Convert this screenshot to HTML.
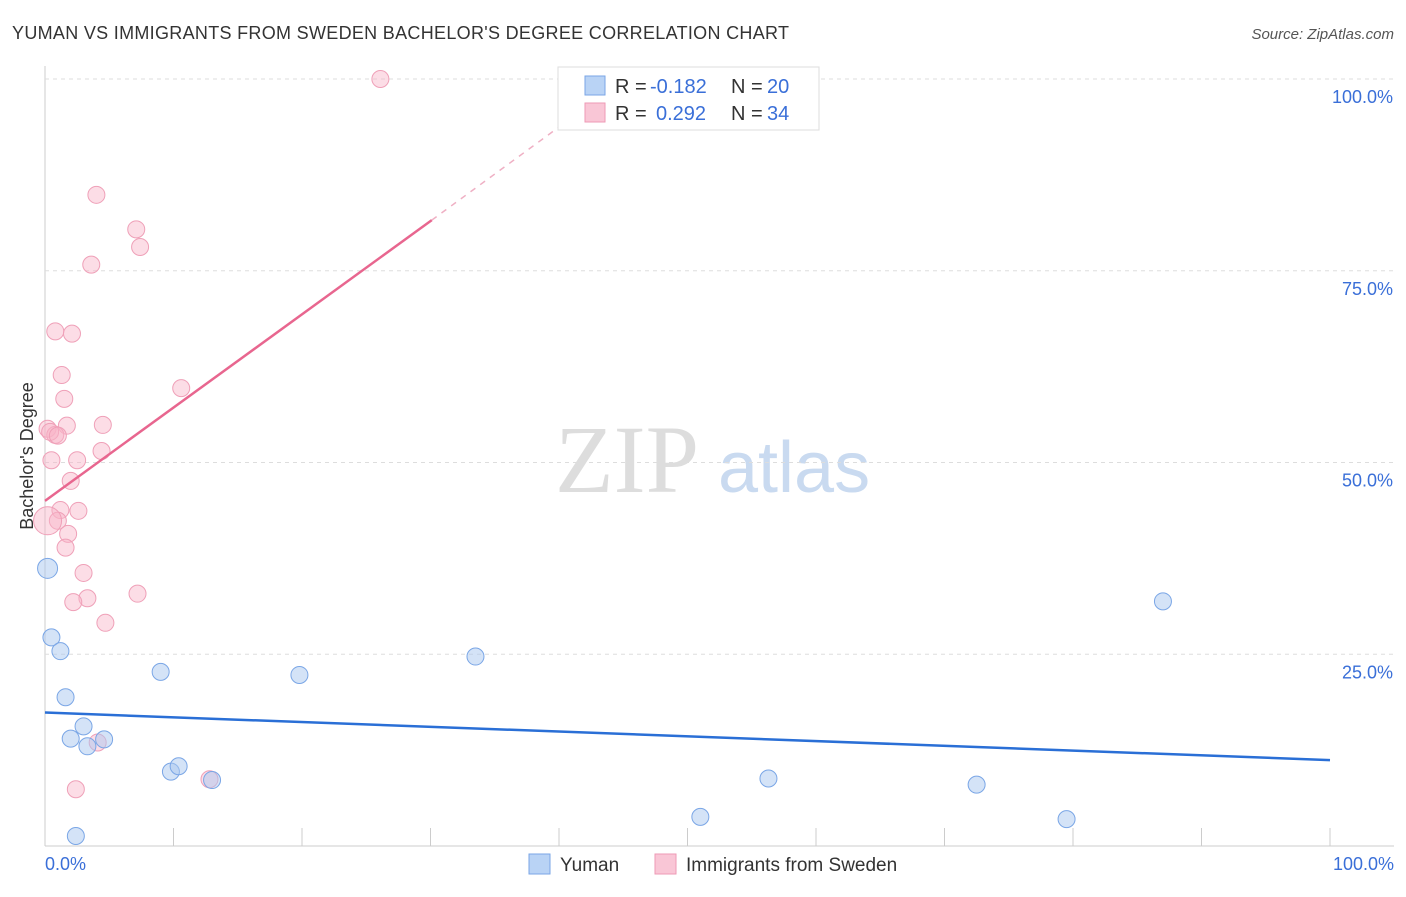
<!DOCTYPE html>
<html><head><meta charset="utf-8"><style>
body{margin:0;background:#fff;font-family:"Liberation Sans",sans-serif}
</style></head><body>
<svg id="c" width="1406" height="892" xmlns="http://www.w3.org/2000/svg">
<text x="12" y="39" font-size="18" fill="#333" textLength="777">YUMAN VS IMMIGRANTS FROM SWEDEN BACHELOR'S DEGREE CORRELATION CHART</text>
<text x="1394" y="39" font-size="15" fill="#555" font-style="italic" text-anchor="end">Source: ZipAtlas.com</text>
<text x="33" y="456" font-size="18" fill="#333" text-anchor="middle" transform="rotate(-90 33 456)">Bachelor's Degree</text>
<text x="555" y="492" font-size="96" fill="#ddd" font-family="Liberation Serif">ZIP</text>
<text x="718" y="492" font-size="72" fill="#c9daf0">atlas</text>
<g id="grid"></g><g id="marks"></g>
<g>
<rect x="558" y="67" width="261" height="63" fill="#fff" stroke="#ddd"/>
<rect x="585" y="76" width="20" height="19" fill="#b9d3f5" stroke="#7aa6e6"/>
<rect x="585" y="103" width="20" height="19" fill="#f9c6d6" stroke="#ee9ab5"/>
<text x="615" y="93" font-size="20" fill="#333">R =</text>
<text x="650" y="93" font-size="20" fill="#3a6fd8">-0.182</text>
<text x="731" y="93" font-size="20" fill="#333">N =</text>
<text x="767" y="93" font-size="20" fill="#3a6fd8">20</text>
<text x="615" y="120" font-size="20" fill="#333">R =</text>
<text x="656" y="120" font-size="20" fill="#3a6fd8">0.292</text>
<text x="731" y="120" font-size="20" fill="#333">N =</text>
<text x="767" y="120" font-size="20" fill="#3a6fd8">34</text>
</g>
<g>
<rect x="529" y="854" width="21" height="20" fill="#b9d3f5" stroke="#7aa6e6"/>
<text x="560" y="871" font-size="19" fill="#333">Yuman</text>
<rect x="655" y="854" width="21" height="20" fill="#f9c6d6" stroke="#ee9ab5"/>
<text x="686" y="871" font-size="19" fill="#333">Immigrants from Sweden</text>
</g>
</svg>
<script>
const yTicks=[100,75,50,25];
const yTickLabels=["100.0%","75.0%","50.0%","25.0%"];
const xTickLabels=["0.0%","100.0%"];
const yumanX=[0.2,0.5,1.2,1.6,2.0,3.0,3.3,4.6,9.0,9.8,10.4,13.0,19.8,33.5,51.0,56.3,72.5,79.5,87.0,2.4];
const yumanY=[36.2,27.2,25.4,19.4,14.0,15.6,13.0,13.9,22.7,9.7,10.4,8.6,22.3,24.7,3.8,8.8,8.0,3.5,31.9,1.3];
const swedenX=[26.1,4.0,7.1,7.4,3.6,0.8,2.1,1.3,10.6,1.5,4.5,1.7,0.2,0.8,4.4,0.5,2.5,2.0,1.2,2.6,1.0,1.8,1.6,3.0,3.3,2.2,7.2,4.7,4.1,12.8,2.4,0.2,0.4,1.0];
const swedenY=[100,84.9,80.4,78.1,75.8,67.1,66.8,61.4,59.7,58.3,54.9,54.8,54.4,53.6,51.5,50.3,50.3,47.6,43.8,43.7,42.4,40.7,38.9,35.6,32.3,31.8,32.9,29.1,13.5,8.7,7.4,42.4,54.0,53.5];
const yumanTrend=[[0,17.4],[100,11.2]];
const swedenTrendSolid=[[0,45.0],[30.1,81.6]];
const swedenTrendDash=[[30.1,81.6],[41.6,95.7]];
const X=v=>45+v*12.85, Y=v=>846-v*7.67;
const NS="http://www.w3.org/2000/svg";
const g=document.getElementById('grid'), m=document.getElementById('marks');
function el(t,a,p){const e=document.createElementNS(NS,t);for(const k in a)e.setAttribute(k,a[k]);p.appendChild(e);return e;}
let ax=el('line',{x1:45,y1:66,x2:45,y2:846,stroke:'#ccc'},g);

let bx=el('line',{x1:45,y1:846,x2:1394,y2:846,stroke:'#ccc'},g);

yTicks.forEach((t,i)=>{
 let l=el('line',{x1:45,x2:1394,y1:Y(t),y2:Y(t),stroke:'#ddd','stroke-dasharray':'4 4'},g);
 
 let tx=el('text',{x:1393,y:Y(t)+24,'font-size':18,fill:'#3a6fd8','text-anchor':'end'},g);tx.textContent=yTickLabels[i];
 
});
for(let i=0;i<=10;i++){let l=el('line',{x1:X(i*10),x2:X(i*10),y1:828,y2:846,stroke:'#ccc'},g);
 }
[[0,'start',45],[100,'end',1394]].forEach((p,i)=>{let tx=el('text',{x:p[2],y:870,'font-size':18,fill:'#3a6fd8','text-anchor':p[1]},g);tx.textContent=xTickLabels[i];
 });
swedenX.forEach((x,i)=>{let c=el('circle',{cx:X(x),cy:Y(swedenY[i]),r:(i==31?14:8.5),fill:'rgba(248,180,200,0.45)',stroke:'#efa0b8','stroke-width':1},m);
 });
yumanX.forEach((x,i)=>{let c=el('circle',{cx:X(x),cy:Y(yumanY[i]),r:(i==0?10:8.5),fill:'rgba(170,200,240,0.5)',stroke:'#7aa6e6','stroke-width':1},m);
 });
let t1=el('line',{x1:X(yumanTrend[0][0]),y1:Y(yumanTrend[0][1]),x2:X(yumanTrend[1][0]),y2:Y(yumanTrend[1][1]),stroke:'#2a6fd6','stroke-width':2.5},m);

let t2=el('line',{x1:X(swedenTrendSolid[0][0]),y1:Y(swedenTrendSolid[0][1]),x2:X(swedenTrendSolid[1][0]),y2:Y(swedenTrendSolid[1][1]),stroke:'#e8668f','stroke-width':2.5},m);

let t3=el('line',{x1:X(swedenTrendDash[0][0]),y1:Y(swedenTrendDash[0][1]),x2:X(swedenTrendDash[1][0]),y2:Y(swedenTrendDash[1][1]),stroke:'#efb0c4','stroke-width':1.5,'stroke-dasharray':'6 6'},m);

</script>
</body></html>
